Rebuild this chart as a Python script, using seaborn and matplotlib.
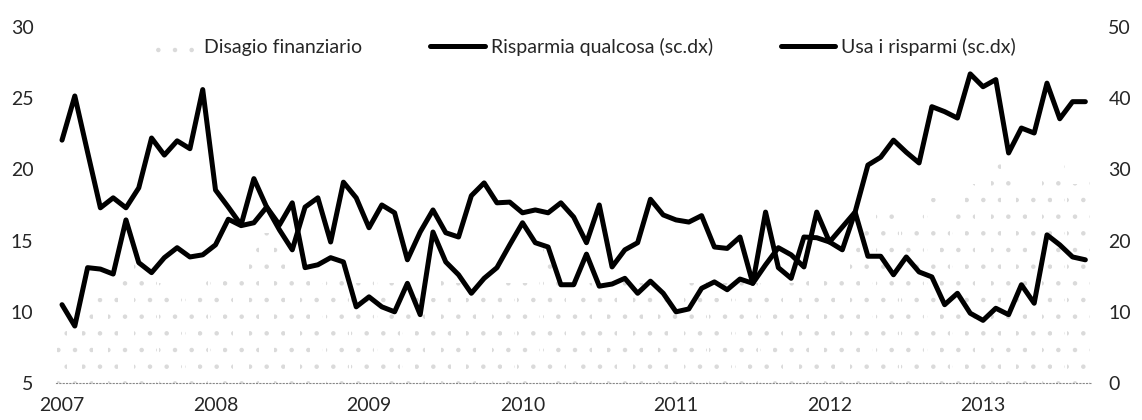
import numpy as np
import pandas as pd
import matplotlib
matplotlib.use('Agg')
import matplotlib.pyplot as plt
import seaborn as sns

# monthly data, Jan 2007 - Sep 2013
years = ['2007', '2008', '2009', '2010', '2011', '2012', '2013']
months = pd.date_range('2007-01-01', periods=81, freq='MS').strftime('%Y-%m').tolist()

# Disagio finanziario (left axis)
disagio = [9, 9, 10, 11, 11.5, 14, 13.5, 13, 12, 11, 11.5, 12.5,
           13, 13, 14, 15, 15.5, 15, 14, 13, 12, 12.5, 13, 12,
           13, 12.5, 12, 11.5, 12, 11, 12.5, 12, 11, 12, 11.5, 12,
           12, 13, 15, 13, 12.5, 12, 11.5, 12, 12.5, 12, 12, 11.5,
           11.5, 12, 12.5, 11, 12, 13, 12, 12, 11.5, 12, 13, 12.5,
           13, 14, 15, 16.5, 17.5, 17.5, 16, 17, 18, 16.5, 17.5, 19,
           20, 20.5, 20, 18.5, 19, 20, 20.5, 19, 19.5]

# Risparmia qualcosa (right axis)
risparmia = [34.1, 40.3, 32.4, 24.6, 26.0, 24.6, 27.4, 34.4, 32.0, 34.0, 32.9, 41.2,
             27.1, 24.7, 22.2, 28.7, 24.7, 21.5, 18.7, 24.7, 26.0, 19.8, 28.2, 26.0,
             21.8, 25.0, 23.9, 17.3, 21.2, 24.3, 21.1, 20.5, 26.3, 28.1, 25.3, 25.4,
             23.9, 24.3, 23.9, 25.3, 23.3, 19.7, 25.0, 16.3, 18.7, 19.7, 25.8, 23.6,
             22.9, 22.6, 23.5, 19.1, 18.9, 20.5, 14.0, 24.0, 16.2, 14.7, 20.5, 20.4,
             19.8, 18.7, 24.0, 17.8, 17.8, 15.2, 17.7, 15.6, 14.9, 11.0, 12.6, 9.8,
             8.8, 10.5, 9.6, 13.8, 11.2, 20.8, 19.4, 17.7, 17.3]

# Usa i risparmi (right axis)
usa = [11.0, 8.0, 16.2, 16.0, 15.3, 22.9, 16.9, 15.5, 17.6, 19.0, 17.7, 18.0,
       19.4, 23.0, 22.1, 22.5, 24.7, 22.2, 25.3, 16.2, 16.6, 17.6, 17.0, 10.7,
       12.1, 10.7, 10.0, 14.0, 9.6, 21.2, 17.0, 15.2, 12.6, 14.7, 16.2, 19.4,
       22.5, 19.7, 19.1, 13.8, 13.8, 18.1, 13.6, 13.9, 14.7, 12.6, 14.3, 12.6,
       10.0, 10.4, 13.3, 14.2, 13.1, 14.6, 14.0, 16.6, 19.0, 18.0, 16.3, 24.0,
       19.8, 21.9, 24.0, 30.6, 31.7, 34.1, 32.4, 30.9, 38.8, 38.1, 37.2, 43.4,
       41.6, 42.6, 32.3, 35.8, 35.1, 42.1, 37.1, 39.5, 39.5]

sns.set_style('white')
plt.rcParams['font.family'] = ['Lato', 'DejaVu Sans']
plt.rcParams['hatch.linewidth'] = 0.8

df = pd.DataFrame({'mese': months, 'disagio': disagio, 'risparmia': risparmia, 'usa': usa})
df['pos'] = np.arange(len(df))

fig = plt.figure(figsize=(11.42, 4.2), dpi=100)
ax = fig.add_axes([0.0487, 0.088, 0.9073, 0.848])

#bars on left axis (very faint, dotted like the scan)
sns.barplot(data=df, x='mese', y='disagio', ax=ax, color='white', width=0.8,
            hatch='.', edgecolor='#dadada', linewidth=0, label='Disagio finanziario')
if ax.get_legend() is not None:
    ax.get_legend().remove()
ax.set_ylim(5, 30)
ax.set_yticks([5, 10, 15, 20, 25, 30])
ax.set_xlim(-0.5, 80.5)
ax.set_xticks(range(0, 81, 12))
ax.set_xticklabels(years)
ax.set_xlabel('')
ax.set_ylabel('')
ax.tick_params(axis='both', length=0, labelsize=14)
ax.tick_params(axis='y', pad=16)
ax.tick_params(axis='x', pad=10)
for s in ['top', 'left', 'right']:
    ax.spines[s].set_visible(False)
ax.spines['bottom'].set_linestyle((0, (1, 2)))
ax.spines['bottom'].set_color('#888888')

#lines on right axis
ax2 = ax.twinx()
sns.lineplot(data=df, x='pos', y='risparmia', ax=ax2, color='black', linewidth=3.6,
             label='Risparmia qualcosa (sc.dx)')
sns.lineplot(data=df, x='pos', y='usa', ax=ax2, color='black', linewidth=3.6,
             label='Usa i risparmi (sc.dx)')
ax2.set_ylim(0, 50)
ax2.set_yticks([0, 10, 20, 30, 40, 50])
ax2.set_xlim(-0.5, 80.5)
ax2.set_ylabel('')
ax2.set_xlabel('')
ax2.tick_params(axis='y', length=0, labelsize=14, pad=12)
for s in ax2.spines.values():
    s.set_visible(False)

h1, l1 = ax.get_legend_handles_labels()
h2, l2 = ax2.get_legend_handles_labels()
ax2.legend(h1[:1] + h2, l1[:1] + l2, loc='center', bbox_to_anchor=(0.506, 0.944), ncol=3,
           frameon=False, fontsize=14, handlelength=2.8, columnspacing=3.5,
           handletextpad=0.3)

plt.savefig('out.png', dpi=100)
